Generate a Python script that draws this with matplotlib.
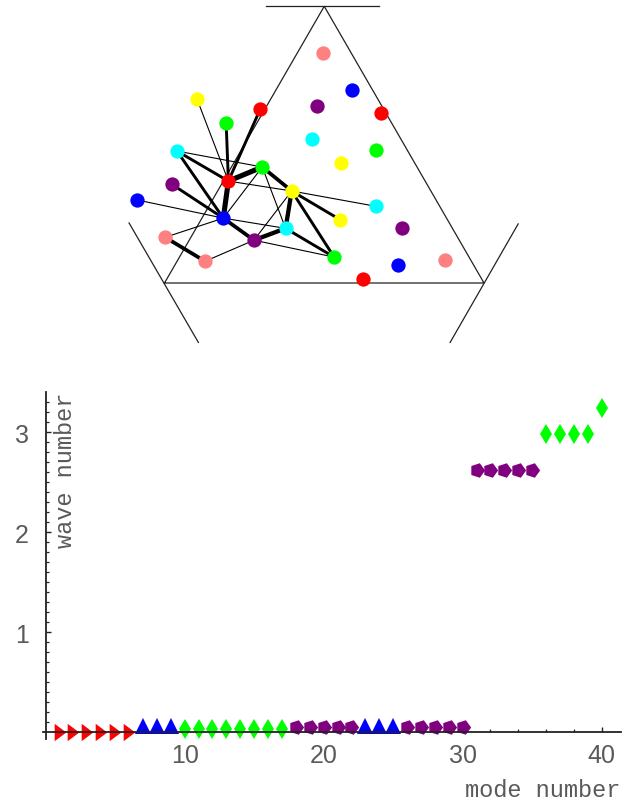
import matplotlib
matplotlib.use('Agg')
import matplotlib.pyplot as plt
from matplotlib.ticker import FixedLocator

# ---- top panel: graph drawn inside a triangle (units: triangle side = 1) ----
node_names = ['Y1', 'R1', 'G1', 'C1', 'G2', 'R2', 'P1', 'Y2', 'B1', 'B2', 'C2', 'K1', 'P2', 'G3', 'K2',
              'K3', 'B3', 'P3', 'R3', 'C4', 'G4', 'Y4', 'C3', 'Y3', 'P4', 'K4', 'B4', 'R4']
node_u = [0.102, 0.300, 0.193, 0.039, 0.306, 0.200, 0.023, 0.398, -0.086, 0.184, 0.379, 0.002, 0.280, 0.531, 0.127,
          0.497, 0.586, 0.477, 0.678, 0.462, 0.663, 0.551, 0.662, 0.550, 0.743, 0.877, 0.732, 0.622]
node_v = [0.575, 0.545, 0.500, 0.413, 0.363, 0.319, 0.309, 0.288, 0.260, 0.203, 0.171, 0.143, 0.134, 0.081, 0.068,
          0.720, 0.603, 0.555, 0.531, 0.450, 0.416, 0.376, 0.240, 0.198, 0.173, 0.073, 0.055, 0.012]
node_colors = ['#FFFF00', '#FF0000', '#00FF00', '#00FFFF', '#00FF00', '#FF0000', '#800080', '#FFFF00',
               '#0000FF', '#0000FF', '#00FFFF', '#FF8080', '#800080', '#00FF00', '#FF8080',
               '#FF8080', '#0000FF', '#800080', '#FF0000', '#00FFFF', '#00FF00', '#FFFF00', '#00FFFF',
               '#FFFF00', '#800080', '#FF8080', '#0000FF', '#FF0000']

edge_a = ['Y1', 'R1', 'G1', 'C1', 'C1', 'C1', 'R2', 'R2', 'R2', 'P1', 'B1', 'B2', 'G2', 'G2',
          'G2', 'Y2', 'Y2', 'Y2', 'Y2', 'Y2', 'B2', 'P2', 'C2', 'P2', 'K1', 'K1', 'K2']
edge_b = ['R2', 'R2', 'R2', 'R2', 'G2', 'B2', 'G2', 'B2', 'Y2', 'B2', 'B2', 'C2', 'B2', 'Y2',
          'C2', 'C2', 'Y3', 'G3', 'C3', 'P2', 'P2', 'C2', 'G3', 'G3', 'B2', 'K2', 'P2']
edge_w = [0.8, 2.1, 2.1, 2.1, 0.8, 2.1, 3.7, 3.7, 0.8, 2.1, 0.8, 0.8, 0.8, 2.7,
          0.8, 3.1, 2.1, 2.1, 0.8, 0.8, 2.7, 3.1, 2.1, 0.8, 0.8, 2.7, 0.8]

tri_u = [0.0, 1.0, 0.5, 0.0]
tri_v = [0.0, 0.0, 0.866, 0.0]
# short lines through each corner
corner_u = [[0.318, 0.672], [-0.111, 0.106], [1.107, 0.894]]
corner_v = [[0.866, 0.866], [0.188, -0.186], [0.185, -0.186]]

# ---- bottom panel: wave number of each mode ----
red_modes = [1, 2, 3, 4, 5, 6]
red_wave = [0, 0, 0, 0, 0, 0]
blue_modes = [7, 8, 9, 23, 24, 25]
blue_wave = [0.06, 0.06, 0.06, 0.06, 0.06, 0.06]
green_modes = [10, 11, 12, 13, 14, 15, 16, 17, 36, 37, 38, 39, 40]
green_wave = [0.03, 0.03, 0.03, 0.03, 0.03, 0.03, 0.03, 0.03, 2.98, 2.98, 2.98, 2.98, 3.24]
purple_modes = [18, 19, 20, 21, 22, 26, 27, 28, 29, 30, 31, 32, 33, 34, 35]
purple_wave = [0.05, 0.05, 0.05, 0.05, 0.05, 0.05, 0.05, 0.05, 0.05, 0.05, 2.62, 2.62, 2.62, 2.62, 2.62]

x_major = [10, 20, 30, 40]
x_minor = [2, 4, 6, 8, 12, 14, 16, 18, 22, 24, 26, 28, 32, 34, 36, 38]
y_major = [1, 2, 3]
y_minor = [0.1, 0.2, 0.3, 0.4, 0.5, 0.6, 0.7, 0.8, 0.9, 1.1, 1.2, 1.3, 1.4, 1.5, 1.6, 1.7, 1.8, 1.9,
           2.1, 2.2, 2.3, 2.4, 2.5, 2.6, 2.7, 2.8, 2.9, 3.1, 3.2, 3.3]

W, H = 631, 803
fig = plt.figure(figsize=(W / 100, H / 100), dpi=100)

# top
ax1 = fig.add_axes([0, 1 - 355 / H, 1, 355 / H])
s = 319.5
ax1.set_xlim(-164.5 / s, (W - 164.5) / s)
ax1.set_ylim((284 - 355) / s, 284 / s)
ax1.axis('off')

ax1.plot(tri_u, tri_v, color='#222222', lw=0.9, zorder=1)
for cu, cv in zip(corner_u, corner_v):
    ax1.plot(cu, cv, color='#222222', lw=0.9, zorder=1)

pos = {n: (u, v) for n, u, v in zip(node_names, node_u, node_v)}
for a, b, w in zip(edge_a, edge_b, edge_w):
    ax1.plot([pos[a][0], pos[b][0]], [pos[a][1], pos[b][1]], color='black', lw=w,
             solid_capstyle='butt', zorder=2)
for u, v, c in zip(node_u, node_v, node_colors):
    ax1.plot(u, v, 'o', color=c, markersize=10.3, markeredgewidth=0, zorder=3)

# bottom
x0, x1, yt, yb = 42.6, 620.7, 393, 740
ax2 = fig.add_axes([x0 / W, (H - yb) / H, (x1 - x0) / W, (yb - yt) / H])
ax2.set_xlim(-0.22, 41.37)
ax2.set_ylim(-0.067, 3.40)
for side in ['top', 'right']:
    ax2.spines[side].set_visible(False)
for side in ['left', 'bottom']:
    ax2.spines[side].set_position(('data', 0))
    ax2.spines[side].set_linewidth(1.3)
    ax2.spines[side].set_color('#222222')

ax2.xaxis.set_major_locator(FixedLocator(x_major))
ax2.xaxis.set_minor_locator(FixedLocator(x_minor))
ax2.yaxis.set_major_locator(FixedLocator(y_major))
ax2.yaxis.set_minor_locator(FixedLocator(y_minor))
ax2.tick_params(which='major', direction='in', length=3.8, width=1.0, color='#222222',
                labelsize=18, labelcolor='#5a5a5a')
ax2.tick_params(which='minor', direction='in', length=2.2, width=0.9, color='#222222')
ax2.tick_params(axis='x', which='major', pad=8)
ax2.tick_params(axis='y', which='major', pad=12)
for lab in ax2.get_xticklabels() + ax2.get_yticklabels():
    lab.set_family('Liberation Sans')

right_tri = [(-0.67, -1), (0.67, 0), (-0.67, 1)]
ax2.plot(red_modes, red_wave, marker=right_tri, color='#FF0000', markersize=12.5, markeredgewidth=0,
         ls='none', clip_on=False)
ax2.plot(blue_modes, blue_wave, '^', color='#0000FF', markersize=11, markeredgewidth=0, ls='none', clip_on=False)
ax2.plot(green_modes, green_wave, 'd', color='#00FF00', markersize=10.5, markeredgewidth=0, ls='none', clip_on=False)
ax2.plot(purple_modes, purple_wave, marker=(5, 0, 270), color='#800080', markersize=11, markeredgewidth=0,
         ls='none', clip_on=False)

fig.text(620 / W, 6 / H, 'mode number', family='Liberation Mono', fontsize=17, color='#5a5a5a',
         ha='right', va='baseline')
fig.text(66 / W, 1 - 393 / H, 'wave number', family='Liberation Mono', fontsize=17, color='#5a5a5a',
         ha='center', va='top', rotation=90)

fig.savefig('out.png', dpi=100)
